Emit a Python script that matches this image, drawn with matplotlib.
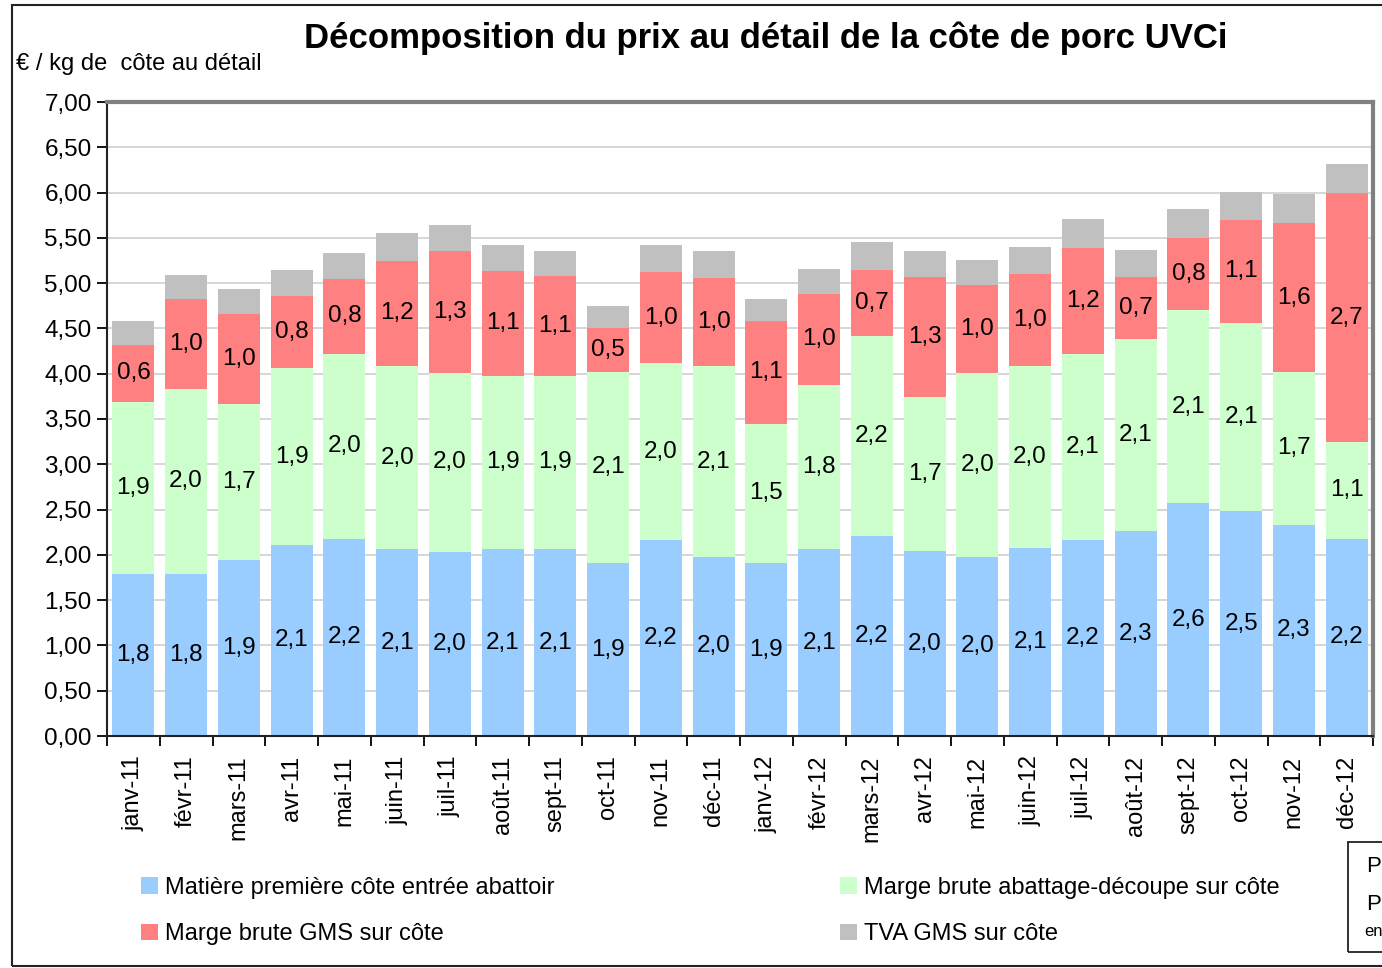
import numpy as np
import matplotlib
matplotlib.use('Agg')
import matplotlib.pyplot as plt
from matplotlib.patches import Rectangle, Patch

plt.rcParams['font.family'] = ['Liberation Sans', 'DejaVu Sans']

# Data (EUR / kg)
mois = ['janv-11', 'févr-11', 'mars-11', 'avr-11', 'mai-11', 'juin-11',
        'juil-11', 'août-11', 'sept-11', 'oct-11', 'nov-11', 'déc-11',
        'janv-12', 'févr-12', 'mars-12', 'avr-12', 'mai-12', 'juin-12',
        'juil-12', 'août-12', 'sept-12', 'oct-12', 'nov-12', 'déc-12']
matiere = [1.79, 1.79, 1.94, 2.11, 2.18, 2.06, 2.03, 2.06, 2.06, 1.91, 2.16, 1.98,
           1.91, 2.06, 2.21, 2.04, 1.98, 2.08, 2.16, 2.26, 2.57, 2.48, 2.33, 2.18]
abattage = [1.90, 2.04, 1.73, 1.95, 2.04, 2.02, 1.98, 1.92, 1.92, 2.11, 1.96, 2.10,
            1.54, 1.82, 2.21, 1.70, 2.03, 2.00, 2.06, 2.12, 2.13, 2.08, 1.69, 1.07]
gms = [0.63, 0.99, 0.99, 0.80, 0.83, 1.17, 1.34, 1.15, 1.10, 0.48, 1.00, 0.98,
       1.13, 1.00, 0.73, 1.33, 0.97, 1.02, 1.17, 0.69, 0.80, 1.14, 1.64, 2.74]
tva = [0.26, 0.27, 0.28, 0.28, 0.28, 0.30, 0.29, 0.29, 0.28, 0.25, 0.30, 0.30,
       0.24, 0.28, 0.30, 0.28, 0.28, 0.30, 0.32, 0.30, 0.32, 0.31, 0.32, 0.32]

noms = ['Matière première côte entrée abattoir',
        'Marge brute abattage-découpe sur côte',
        'Marge brute GMS sur côte',
        'TVA GMS sur côte']
couleurs = ['#99CCFF', '#CCFFCC', '#FF8080', '#C0C0C0']

fig = plt.figure(figsize=(13.82, 9.68), dpi=100)
ax = fig.add_axes([107/1382, 1-736/968, 1266/1382, 634/968])

x = np.arange(len(mois))
series = [matiere, abattage, gms, tva]
bottom = np.zeros(len(mois))
for i, (vals, col) in enumerate(zip(series, couleurs)):
    vals = np.array(vals)
    bars = ax.bar(x, vals, 0.8, bottom=bottom, color=col, zorder=2)
    if i < 3:
        for b, v in zip(bars, vals):
            ax.text(b.get_x() + b.get_width()/2, b.get_y() + v/2,
                    f'{v:.1f}'.replace('.', ','), ha='center', va='center',
                    fontsize=17.5, zorder=3)
    bottom += vals

ax.set_xlim(-0.5, len(mois) - 0.5)
ax.set_ylim(0, 7)
ax.set_yticks(np.arange(0, 7.01, 0.5))
ax.set_yticklabels([f'{v:.2f}'.replace('.', ',') for v in np.arange(0, 7.01, 0.5)],
                   fontsize=17.5)
ax.yaxis.grid(True, color='#D0D0D0', linewidth=1.2, zorder=0)
ax.set_axisbelow(True)

ax.set_xticks(x)
ax.set_xticklabels(mois, rotation=90, fontsize=17)
ax.set_xticks(np.arange(-0.5, len(mois)), minor=True)
ax.tick_params(axis='x', which='major', length=0, pad=14)
ax.tick_params(axis='x', which='minor', length=7, width=1.3, direction='out')
ax.tick_params(axis='y', length=7, width=1.3, direction='out', pad=4)

for s in ['left', 'bottom']:
    ax.spines[s].set_color('#222222')
    ax.spines[s].set_linewidth(1.5)
for s in ['top', 'right']:
    ax.spines[s].set_color('#808080')
    ax.spines[s].set_linewidth(3)

fig.text(766/1382, 1-38/968, 'Décomposition du prix au détail de la côte de porc UVCi',
         ha='center', va='center', fontsize=25, fontweight='bold')
fig.text(16/1382, 1-64/968, '€ / kg de  côte au détail', ha='left', va='center',
         fontsize=17)

h = [Patch(facecolor=c, edgecolor='none') for c in couleurs]
opts = dict(loc='upper left', frameon=False, fontsize=17, handlelength=0.7,
            handleheight=0.7, handletextpad=0.3, labelspacing=1.03,
            borderpad=0, borderaxespad=0)
leg1 = fig.legend([h[0], h[2]], [noms[0], noms[2]],
                  bbox_to_anchor=(141/1382, 1-877/968), **opts)
leg2 = fig.legend([h[1], h[3]], [noms[1], noms[3]],
                  bbox_to_anchor=(840/1382, 1-877/968), **opts)

# outer chart border and cut-off box on the right
fig.patches.append(Rectangle((12/1382, 1-966/968), 1.0, 961/968, transform=fig.transFigure,
                             fill=False, edgecolor='#222222', linewidth=1.5))
fig.patches.append(Rectangle((1348/1382, 1-952/968), 0.1, 110/968, transform=fig.transFigure,
                             fill=False, edgecolor='#222222', linewidth=1.3))
fig.text(1366/1382, 1-866/968, 'P', fontsize=16, va='center', ha='left')
fig.text(1366/1382, 1-905/968, 'P', fontsize=16, va='center', ha='left')
fig.text(1364/1382, 1-931/968, 'en', fontsize=12, va='center', ha='left')

fig.savefig('out.png', dpi=100)
